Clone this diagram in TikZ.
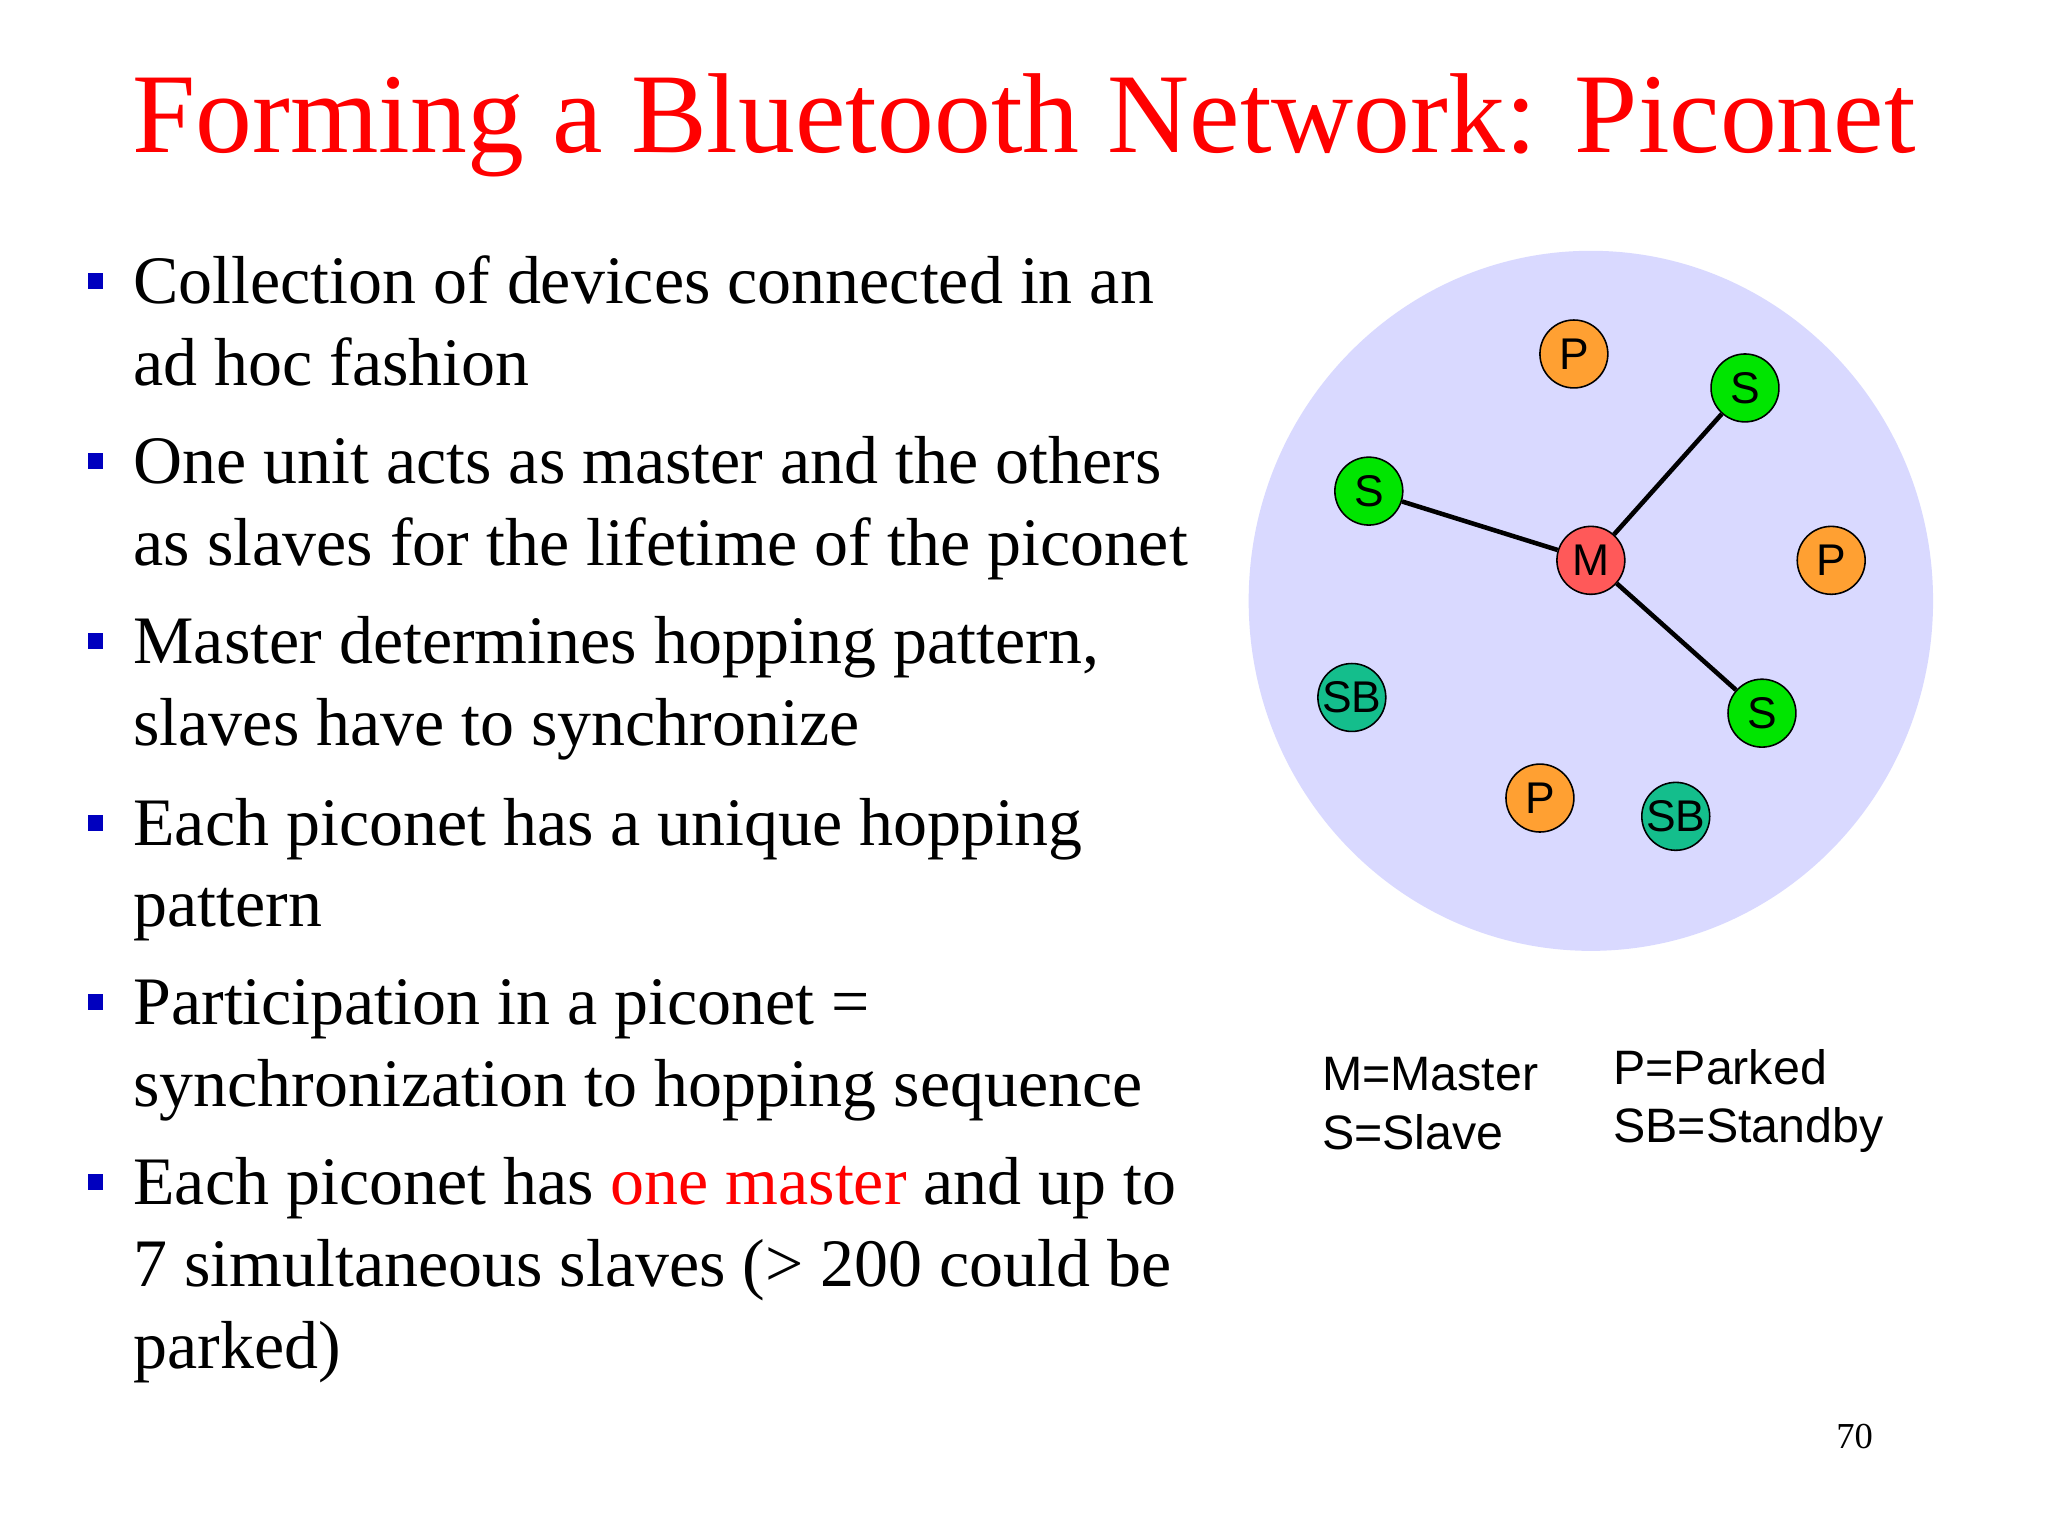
\documentclass[tikz,border=0pt]{standalone}
\usepackage{fontspec}
\setmainfont{Liberation Serif}
\newfontfamily\arialf{Liberation Sans}
\definecolor{sbcol}{RGB}{20,190,140}
\definecolor{pcol}{RGB}{255,160,50}
\begin{document}
\begin{tikzpicture}[x=1pt,y=-1pt,
  txt/.style={anchor=base west,inner sep=0,font=\fontsize{52}{60}\selectfont},
  bul/.style={fill=blue!75!black,minimum size=12,inner sep=0},
  dev/.style={circle,draw=black,line width=1.2,minimum size=52,inner sep=0,font=\arialf\fontsize{34}{38}\selectfont},
  pk/.style={dev,fill=pcol},
  sl/.style={dev,fill=green!90!black},
  sb/.style={dev,fill=sbcol},
  ms/.style={dev,fill=red!65},
  lnk/.style={line width=3.5},
  leg/.style={anchor=base west,inner sep=0,font=\arialf\fontsize{37}{42}\selectfont}]
\path[use as bounding box,fill=white] (0,0) rectangle (1568,1176);
\node[anchor=base,inner sep=0,text=red,font=\fontsize{87}{100}\selectfont] (title) at (784,117) {Forming a Bluetooth Network: Piconet};
\foreach \y in {215,353,491,630,767,905} {\node[bul] at (73,\y) {};}
\node[txt] (l1) at (102,232) {Collection of devices connected in an};
\node[txt] (l2) at (102,295) {ad hoc fashion};
\node[txt] (l3) at (102,370) {One unit acts as master and the others};
\node[txt] (l4) at (102,433) {as slaves for the lifetime of the piconet};
\node[txt] (l5) at (102,508) {Master determines hopping pattern,};
\node[txt] (l6) at (102,571) {slaves have to synchronize};
\node[txt] (l7) at (102,647) {Each piconet has a unique hopping};
\node[txt] (l8) at (102,709) {pattern};
\node[txt] (l9) at (102,784) {Participation in a piconet =};
\node[txt] (l10) at (102,847) {synchronization to hopping sequence};
\node[txt] (l11) at (102,922) {Each piconet has \textcolor{red}{one master} and up to};
\node[txt] (l12) at (102,985) {7 simultaneous slaves (> 200 could be};
\node[txt] (l13) at (102,1048) {parked)};
\fill[blue!15!white] (1218,460) ellipse (262 and 268);
\node[ms] (m) at (1218,429) {M};
\node[sl] (s1) at (1336,297) {S};
\node[sl] (s2) at (1048,376) {S};
\node[sl] (s3) at (1349,546) {S};
\draw[lnk] (m) -- (s1); \draw[lnk] (m) -- (s2); \draw[lnk] (m) -- (s3);
\node[pk] (p1) at (1205,271) {P};
\node[pk] (p2) at (1402,429) {P};
\node[pk] (p3) at (1179,611) {P};
\node[sb] (sb1) at (1035,534) {SB};
\node[sb] (sb2) at (1283,625) {SB};
\node[leg] (lm) at (1012,835) {M=Master};
\node[leg] (ls) at (1012,880) {S=Slave};
\node[leg] (lp) at (1235,830) {P=Parked};
\node[leg] (lsb) at (1235,875) {SB=Standby};
\node[anchor=base,inner sep=0,font=\fontsize{28}{32}\selectfont] (pg) at (1420,1109) {70};
\end{tikzpicture}
\end{document}
